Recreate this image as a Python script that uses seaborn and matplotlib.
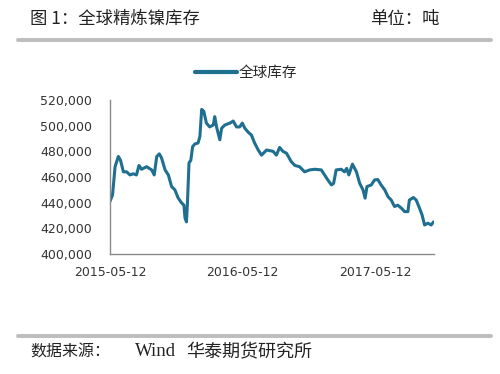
import matplotlib
matplotlib.use("Agg")
import matplotlib.pyplot as plt
import matplotlib.dates as mdates
from matplotlib.lines import Line2D
from matplotlib.ticker import FuncFormatter
import seaborn as sns
import pandas as pd

dates = [
    "2015-05-12", "2015-05-19", "2015-05-26", "2015-06-04", "2015-06-10", "2015-06-18",
    "2015-06-27", "2015-07-06", "2015-07-15", "2015-07-24", "2015-07-31", "2015-08-07",
    "2015-08-21", "2015-09-04", "2015-09-11", "2015-09-18", "2015-09-25", "2015-10-01",
    "2015-10-11", "2015-10-20", "2015-10-29", "2015-11-07", "2015-11-16", "2015-11-25",
    "2015-12-02", "2015-12-05", "2015-12-09", "2015-12-12", "2015-12-16", "2015-12-21",
    "2015-12-26", "2016-01-01", "2016-01-10", "2016-01-15", "2016-01-20", "2016-01-26",
    "2016-01-29", "2016-02-02", "2016-02-11", "2016-02-21", "2016-02-25", "2016-03-01",
    "2016-03-10", "2016-03-15", "2016-03-24", "2016-04-07", "2016-04-16", "2016-04-25",
    "2016-05-04", "2016-05-11", "2016-05-18", "2016-05-27", "2016-06-05", "2016-06-14",
    "2016-06-24", "2016-07-03", "2016-07-17", "2016-08-04", "2016-08-13", "2016-08-22",
    "2016-08-31", "2016-09-10", "2016-09-23", "2016-10-03", "2016-10-16", "2016-10-30",
    "2016-11-13", "2016-11-27", "2016-12-15", "2016-12-24", "2017-01-02", "2017-01-12",
    "2017-01-18", "2017-01-25", "2017-02-08", "2017-02-17", "2017-02-23", "2017-03-01",
    "2017-03-11", "2017-03-22", "2017-03-31", "2017-04-09", "2017-04-15", "2017-04-20",
    "2017-05-02", "2017-05-11", "2017-05-20", "2017-05-29", "2017-06-08", "2017-06-17",
    "2017-06-26", "2017-07-05", "2017-07-14", "2017-07-24", "2017-08-02", "2017-08-11",
    "2017-08-15", "2017-08-26", "2017-09-03", "2017-09-12", "2017-09-19", "2017-09-26",
    "2017-10-05", "2017-10-14", "2017-10-21",
]
inventory = [
    441000, 446000, 468000, 476000, 473000, 464000,
    464000, 461600, 462500, 461600, 469000, 466000,
    468000, 465500, 461600, 476000, 478000, 475000,
    465500, 461600, 452500, 450000, 443700, 440000,
    438000, 428000, 425000, 442000, 471000, 473000,
    483600, 485700, 486500, 491500, 512700, 511000,
    507000, 502000, 499000, 500500, 507000, 499000,
    489000, 498000, 500500, 502000, 503600, 499000,
    499000, 502000, 498000, 495000, 492700, 486500,
    481000, 477000, 481000, 480000, 477000, 483000,
    480000, 478500, 472000, 469000, 468000, 464000,
    465500, 466000, 465500, 461600, 457700, 453800,
    455000, 465500, 466000, 464000, 466700, 461600,
    470000, 464000, 455000, 450000, 443500, 452500,
    453800, 457700, 458000, 453800, 450000, 444700,
    442000, 437000, 438000, 435700, 433000, 433000,
    442000, 444000, 442000, 435700, 430500, 422600,
    424000, 422600, 425000,
]
series_name = "全球库存"
x_ticks = ["2015-05-12", "2016-05-12", "2017-05-12"]
y_ticks = [400000, 420000, 440000, 460000, 480000, 500000, 520000]

title = "图 1：全球精炼镍库存"
unit = "单位：吨"
source_label = "数据来源："
source_wind = "Wind"
source_org = "华泰期货研究所"

df = pd.DataFrame({"date": pd.to_datetime(dates), "value": inventory, "series": series_name})

sns.set_style("white")
plt.rcParams["font.family"] = ["Noto Sans CJK SC", "DejaVu Sans"]

fig = plt.figure(figsize=(5, 3.74), dpi=100)
ax = fig.add_axes([0.22, 0.3209, 0.648, 0.4118])

line_color = "#1f6f90"
sns.lineplot(data=df, x="date", y="value", hue="series", palette=[line_color],
             linewidth=2.2, ax=ax, legend=True)

ax.set_xlim(pd.Timestamp("2015-05-12"), pd.Timestamp("2017-10-22"))
ax.set_ylim(400000, 520000)
ax.set_xticks(pd.to_datetime(x_ticks))
ax.xaxis.set_major_formatter(mdates.DateFormatter("%Y-%m-%d"))
ax.set_yticks(y_ticks)
ax.yaxis.set_major_formatter(FuncFormatter(lambda v, p: f"{v:,.0f}"))
ax.set_xlabel("")
ax.set_ylabel("")

for s in ["top", "right"]:
    ax.spines[s].set_visible(False)
for s in ["left", "bottom"]:
    ax.spines[s].set_color("#8a8a8a")
    ax.spines[s].set_linewidth(1.0)
ax.tick_params(axis="both", which="both", direction="out", length=4, width=1.0,
               color="#8a8a8a", labelsize=9, labelcolor="#333333")
ax.tick_params(axis="y", pad=9)
ax.tick_params(axis="x", pad=5)
for lab in ax.get_xticklabels() + ax.get_yticklabels():
    lab.set_family(["DejaVu Sans"])

leg = ax.legend(loc="center", bbox_to_anchor=(0.42, 1.175), frameon=False,
                handlelength=2.9, handletextpad=0.15, fontsize=10.5)
for h in leg.get_lines():
    h.set_linewidth(3.0)

# header and footer
fig.text(30 / 500, 1 - 19 / 374, title, fontsize=12.5, color="#222222", ha="left", va="center")
fig.text(370 / 500, 1 - 19 / 374, unit, fontsize=12.5, color="#222222", ha="left", va="center")
fig.add_artist(Line2D([18 / 500, 491 / 500], [1 - 40 / 374, 1 - 40 / 374],
                      transform=fig.transFigure, color="#bdbdbd", linewidth=2.8))
fig.add_artist(Line2D([18 / 500, 491 / 500], [1 - 335.5 / 374, 1 - 335.5 / 374],
                      transform=fig.transFigure, color="#bdbdbd", linewidth=2.8))
fig.text(30 / 500, 1 - 352 / 374, source_label, fontsize=11.5, color="#222222", ha="left", va="center")
fig.text(135 / 500, 1 - 352 / 374, source_wind, fontsize=13.5, color="#222222", ha="left",
         va="center", family=["Liberation Serif"])
fig.text(186 / 500, 1 - 352 / 374, source_org, fontsize=13, color="#222222", ha="left", va="center")

fig.savefig("out.png", dpi=100, facecolor="white")
